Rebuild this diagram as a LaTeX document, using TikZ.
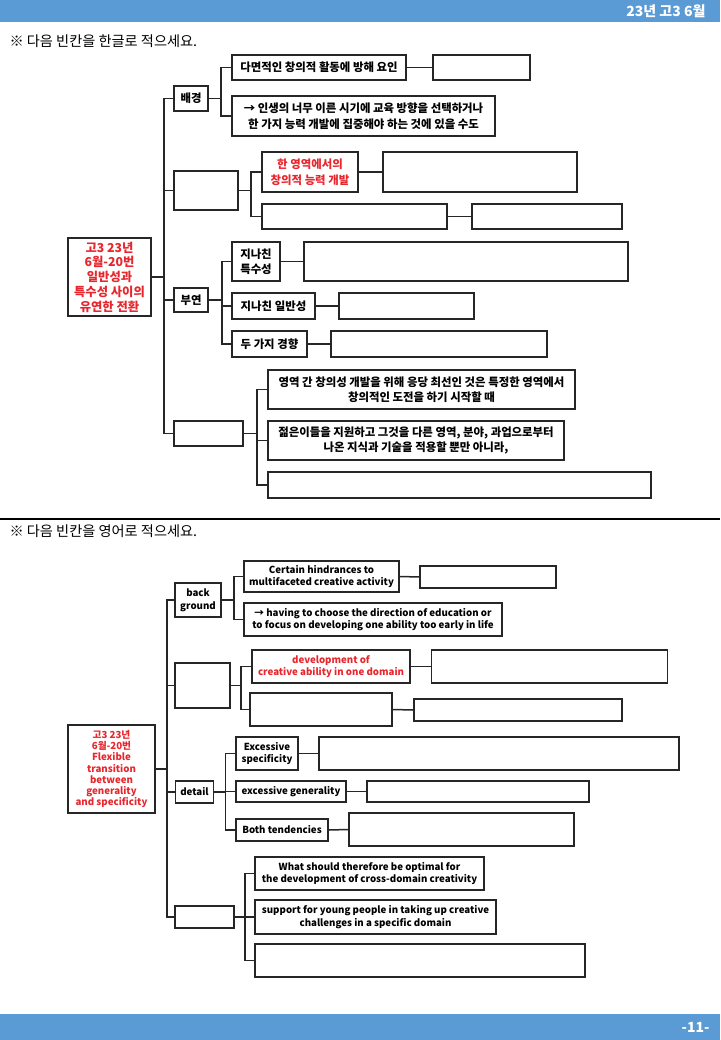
\documentclass[tikz,border=0pt]{standalone}
\usepackage{fontspec}
\setmainfont{Noto Sans CJK KR}
\usetikzlibrary{positioning}

\definecolor{barblue}{HTML}{5B9BD5}
\definecolor{keyred}{HTML}{E8262D}
\definecolor{edgegray}{HTML}{262626}

\tikzset{
	box/.style={draw=edgegray, line width=1.5pt, fill=white, align=center, inner sep=0pt,
		font=\bfseries\fontsize{11.4}{15.5}\selectfont},
	ebox/.style={box, font=\bfseries\fontsize{9.7}{12.6}\selectfont},
	sz/.style 2 args={minimum width=#1, minimum height=#2},
	keytxt/.style={text=keyred},
	link/.style={draw=edgegray, line width=1.5pt},
}

\begin{document}
\begin{tikzpicture}[x=1pt, y=-1pt]
	\useasboundingbox (0,0) rectangle (720,1040);
	% header and footer bars
	\fill[barblue] (0,0) rectangle (720,22);
	\fill[barblue] (0,1014) rectangle (720,1040);
	\node[anchor=east, text=white, font=\bfseries\fontsize{14}{16}\selectfont] (hdr) at (709,11) {23년 고3 6월};
	\node[anchor=east, text=white, font=\bfseries\fontsize{14}{16}\selectfont] (pg) at (713,1027) {-11-};

	% ---------- Korean part ----------
	\node[anchor=west, font=\fontsize{14.2}{16}\selectfont] (krtask) at (6,41) {※ 다음 빈칸을 한글로 적으세요.};

	\node[box, keytxt, sz={83}{78}, font=\bfseries\fontsize{12.3}{14.8}\selectfont] (root) at (109.5,277)
		{고3 23년\\6월-20번\\일반성과\\특수성 사이의\\유연한 전환};

	\node[box, sz={34}{25}] (bg) at (191,98.5) {배경};
	\node[box, sz={64}{39}] (mid) at (206,190.5) {};
	\node[box, sz={34}{24}] (bu) at (191,300) {부연};
	\node[box, sz={69}{25}] (last) at (208.5,433.5) {};

	\node[box, sz={174}{25}] (bgA) at (319,67.5) {다면적인 창의적 활동에 방해 요인};
	\node[box, sz={97}{25}] (bgAx) at (481.5,67.5) {};
	\node[box, sz={263}{40}] (bgB) at (363.5,116)
		{→ 인생의 너무 이른 시기에 교육 방향을 선택하거나\\한 가지 능력 개발에 집중해야 하는 것에 있을 수도};

	\node[box, keytxt, sz={96}{40}] (midA) at (310,172) {한 영역에서의\\창의적 능력 개발};
	\node[box, sz={194}{40}] (midAx) at (480,172) {};
	\node[box, sz={185}{25}] (midB) at (354.5,216.5) {};
	\node[box, sz={150}{25}] (midBx) at (547,216.5) {};

	\node[box, sz={48}{39}] (buA) at (256,261.5) {지나친\\특수성};
	\node[box, sz={324}{39}] (buAx) at (466,261.5) {};
	\node[box, sz={83}{26}] (buB) at (273.5,306) {지나친 일반성};
	\node[box, sz={135}{26}] (buBx) at (406.5,306) {};
	\node[box, sz={75}{26}] (buC) at (269.5,344) {두 가지 경향};
	\node[box, sz={216}{26}] (buCx) at (439,344) {};

	\node[box, sz={307}{39}] (lastA) at (421.5,389.5)
		{영역 간 창의성 개발을 위해 응당 최선인 것은 특정한 영역에서\\창의적인 도전을 하기 시작할 때};
	\node[box, sz={296}{39}] (lastB) at (416,440.5)
		{젊은이들을 지원하고 그것을 다른 영역, 분야, 과업으로부터\\나온 지식과 기술을 적용할 뿐만 아니라,};
	\node[box, sz={383}{26}] (lastC) at (459.5,485) {};

	\foreach \c in {bg,mid,bu,last}
		\draw[link] (root.east) -- ++(12,0) |- (\c.west);
	\foreach \c in {bgA,bgB}
		\draw[link] (bg.east) -- ++(12,0) |- (\c.west);
	\foreach \c in {midA,midB}
		\draw[link] (mid.east) -- ++(12,0) |- (\c.west);
	\foreach \c in {buA,buB,buC}
		\draw[link] (bu.east) -- ++(13,0) |- (\c.west);
	\foreach \c in {lastA,lastB,lastC}
		\draw[link] (last.east) -- ++(13,0) |- (\c.west);
	\foreach \a in {bgA,midA,midB,buA,buB,buC}
		\draw[link] (\a.east) -- (\a x.west);

	% divider
	\draw[line width=1.3pt] (0,519) -- (720,519);

	% ---------- English part ----------
	\node[anchor=west, font=\fontsize{14.2}{16}\selectfont] (entask) at (6,531) {※ 다음 빈칸을 영어로 적으세요.};

	\node[ebox, keytxt, sz={87}{88}, font=\bfseries\fontsize{9.7}{11.3}\selectfont] (eroot) at (111.5,769)
		{고3 23년\\6월-20번\\Flexible\\transition\\between\\generality\\and specificity};

	\node[ebox, sz={46}{34}] (ebg) at (198,600) {back\\ground};
	\node[ebox, sz={55}{45}] (emid) at (202.5,685.5) {};
	\node[ebox, sz={38}{22}] (edet) at (194.5,792) {detail};
	\node[ebox, sz={59}{22}] (elast) at (204.5,917) {};

	\node[ebox, sz={155}{31}] (ebgA) at (321.5,576.5) {Certain hindrances to\\multifaceted creative activity};
	\node[ebox, sz={136}{22}] (ebgAx) at (488,577) {};
	\node[ebox, sz={258}{33}] (ebgB) at (373,619.5)
		{→ having to choose the direction of education or\\to focus on developing one ability too early in life};

	\node[ebox, keytxt, sz={158}{33}] (emidA) at (331,666.5) {development of\\creative ability in one domain};
	\node[ebox, sz={236}{33}] (emidAx) at (549.5,666.5) {};
	\node[ebox, sz={142}{33}] (emidB) at (321,709.5) {};
	\node[ebox, sz={208}{22}] (emidBx) at (518,710) {};

	\node[ebox, sz={62}{33}] (edetA) at (267,753.5) {Excessive\\specificity};
	\node[ebox, sz={360}{33}] (edetAx) at (499,753.5) {};
	\node[ebox, sz={110}{21}] (edetB) at (291,791.5) {excessive generality};
	\node[ebox, sz={222}{21}] (edetBx) at (478,791.5) {};
	\node[ebox, sz={92}{22}] (edetC) at (282,830) {Both tendencies};
	\node[ebox, sz={225}{33}] (edetCx) at (461.5,829.5) {};

	\node[ebox, sz={229}{33}] (elastA) at (369.5,873.5)
		{What should therefore be optimal for\\the development of cross-domain creativity};
	\node[ebox, sz={241}{34}] (elastB) at (375.5,917)
		{support for young people in taking up creative\\challenges in a specific domain};
	\node[ebox, sz={330}{33}] (elastC) at (420,960.5) {};

	\foreach \c in {ebg,emid,edet,elast}
		\draw[link] (eroot.east) -- ++(11,0) |- (\c.west);
	\foreach \c in {ebgA,ebgB}
		\draw[link] (ebg.east) -- ++(12,0) |- (\c.west);
	\foreach \c in {emidA,emidB}
		\draw[link] (emid.east) -- ++(10,0) |- (\c.west);
	\foreach \c in {edetA,edetB,edetC}
		\draw[link] (edet.east) -- ++(11,0) |- (\c.west);
	\foreach \c in {elastA,elastB,elastC}
		\draw[link] (elast.east) -- ++(10,0) |- (\c.west);
	\foreach \a in {ebgA,emidA,emidB,edetA,edetB,edetC}
		\draw[link] (\a.east) -- (\a x.west);
\end{tikzpicture}
\end{document}
